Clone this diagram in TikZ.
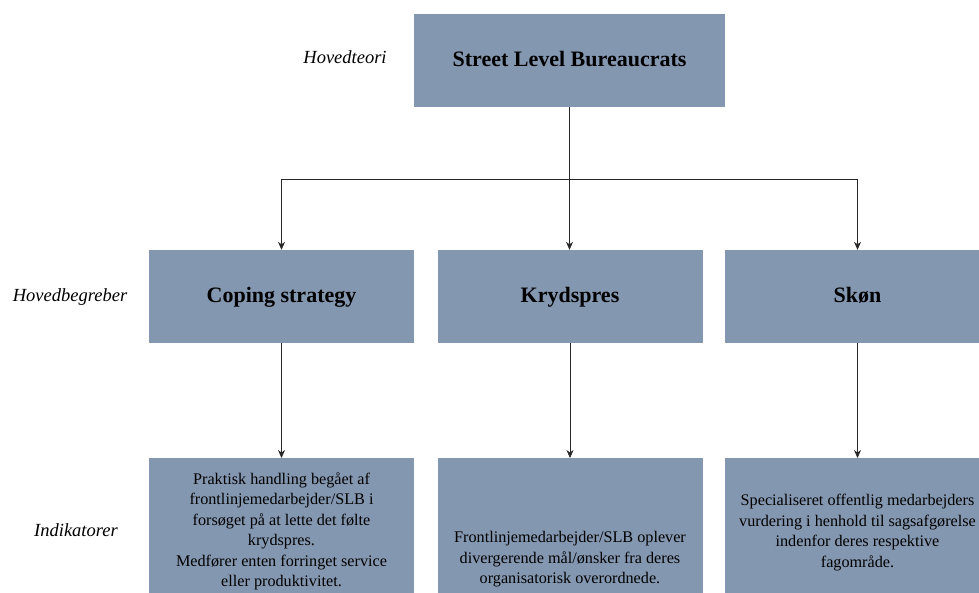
\documentclass[tikz,border=0pt]{standalone}
\usepackage{fontspec}
\setmainfont{Liberation Serif}
\usepackage{tikz}
\usetikzlibrary{arrows.meta}
\usepackage{xcolor}
\definecolor{boxblue}{HTML}{8497B0}
\tikzset{>={Stealth[length=8pt,width=7pt]}}
\tikzset{
    kasse/.style={fill=boxblue, draw=none, inner sep=0pt, align=center},
    topbox/.style={kasse, minimum width=311pt, minimum height=93pt, text height=15pt, text depth=4pt, font=\fontsize{22}{24}\selectfont\bfseries},
    midbox/.style={kasse, minimum width=265pt, minimum height=93pt, text height=15pt, text depth=3pt, font=\fontsize{22}{24}\selectfont\bfseries},
    indbox/.style={kasse, anchor=north, minimum width=265pt, font=\fontsize{16.2}{20.5}\selectfont},
    niveau/.style={font=\fontsize{18.5}{20}\selectfont\itshape},
    pil/.style={->, line width=0.7pt, draw=black!85}
}

\begin{document}
\begin{tikzpicture}[x=1pt,y=-1pt]
        \useasboundingbox (0,0) rectangle (979,592);
        \clip (0,0) rectangle (979,592);

        %niveauer
        \node[niveau] (teori) at (345,57) {Hovedteori};
        \node[niveau] (begreber) at (70,297) {Hovedbegreber};
        \node[niveau] (indikatorer) at (76,530) {Indikatorer};

        %kasser
        \node[topbox] (slb) at (569.5,60.5) {Street Level Bureaucrats};

        \node[midbox] (coping) at (281.5,296.5) {Coping strategy};
        \node[midbox] (kryds) at (570,296.5) {Krydspres};
        \node[midbox] (skon) at (857.5,296.5) {Skøn};

        \node[indbox, minimum height=146pt] (indcoping) at (281.5,458)
            {Praktisk handling begået af\\frontlinjemedarbejder/SLB i\\forsøget på at lette det følte\\krydspres.\\Medfører enten forringet service\\eller produktivitet.};
        \node[indbox, minimum height=202pt] (indkryds) at (570,458)
            {Frontlinjemedarbejder/SLB oplever\\divergerende mål/ønsker fra deres\\organisatorisk overordnede.};
        \node[indbox, minimum height=149pt] (indskon) at (857.5,458)
            {Specialiseret offentlig medarbejders\\vurdering i henhold til sagsafgørelse\\indenfor deres respektive\\fagområde.};

        %pile
        \coordinate (split) at (slb.south |- 0,179);
        \draw[pil, -] (slb.south) -- (split);
        \draw[pil] (split) -| (coping.north);
        \draw[pil] (split) -- (split |- kryds.north);
        \draw[pil] (split) -| (skon.north);

        \draw[pil] (coping) -- (indcoping);
        \draw[pil] (kryds) -- (indkryds);
        \draw[pil] (skon) -- (indskon);

    \end{tikzpicture}
\end{document}
